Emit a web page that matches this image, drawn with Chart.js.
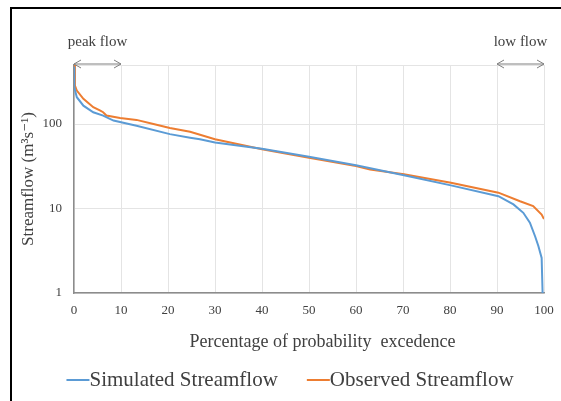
<!DOCTYPE html>
<html>
<head>
<meta charset="utf-8">
<script src="https://cdn.jsdelivr.net/npm/chart.js@4.4.1/dist/chart.umd.min.js"></script>
<style>
  html, body { margin: 0; padding: 0; background: #fff; }
  #wrap { position: relative; width: 561px; height: 401px; }
  #frame {
    position: absolute; left: 10px; top: 7px; right: 0; bottom: 0;
    border-top: 2px solid #000; border-left: 2px solid #000;
    pointer-events: none;
  }
</style>
</head>
<body>
<div id="wrap">
  <canvas id="fdc" width="561" height="401"></canvas>
  <div id="frame"></div>
</div>
<script>
// Flow duration curves (percent exceedance vs m3/s)
const simPct  = [0, 0.05, 0.6, 2, 4.1, 6.2, 8.4, 13.3, 20.4, 24.7, 26.8, 30, 40, 50, 60, 70.2, 80.2, 90.3, 93.5, 95.6, 97, 98.1, 98.8, 99.5, 99.7];
const simFlow = [480, 273, 208, 165, 138, 126, 110, 95.5, 76, 69, 66, 60.5, 51, 41, 32.5, 24.7, 18.8, 14.0, 11.2, 8.9, 6.8, 4.7, 3.6, 2.6, 1];

const obsPct  = [0, 0.2, 0.6, 2, 4.1, 5.5, 6.2, 6.9, 9.8, 13.3, 16.9, 20.4, 24.7, 30, 40, 50, 60, 63, 70.2, 80.2, 90.3, 94.9, 97.7, 99.5, 100];
const obsFlow = [500, 286, 249, 199, 158, 145, 138, 126, 118, 112, 100, 90, 81, 66, 50.4, 40, 31.9, 29, 25.4, 20.2, 15.4, 12.2, 10.7, 8.5, 7.5];

const yTicks = [1, 10, 100, 500];
const annotations = [
    { text: 'peak flow', from: 0, to: 10 },
    { text: 'low flow', from: 90, to: 100 }
];

const FONT = "'Liberation Serif', 'DejaVu Serif', serif";
const colors = {
    sim: '#5b9bd5',
    obs: '#ed7d31',
    grid: '#e4e4e4',
    axis: '#8c8c8c',
    text: '#404040',
    arrow: '#7f7f7f'
};

function toPoints(xs, ys) {
    return xs.map((x, i) => ({ x: x, y: ys[i] }));
}

// draws the peak / low flow arrows above the plot
const flowArrows = {
    id: 'flowArrows',
    afterDraw(chart) {
        const ctx = chart.ctx;
        const xs = chart.scales.x;
        const y = chart.chartArea.top - 1;
        ctx.save();
        ctx.strokeStyle = colors.arrow;
        ctx.lineWidth = 1;
        ctx.fillStyle = colors.text;
        ctx.font = '15px ' + FONT;
        ctx.textAlign = 'center';
        ctx.textBaseline = 'middle';
        annotations.forEach(a => {
            const x1 = xs.getPixelForValue(a.from);
            const x2 = xs.getPixelForValue(a.to);
            ctx.beginPath();
            ctx.moveTo(x1, y);
            ctx.lineTo(x2, y);
            ctx.moveTo(x1 + 7, y - 4);
            ctx.lineTo(x1, y);
            ctx.lineTo(x1 + 7, y + 4);
            ctx.moveTo(x2 - 7, y - 4);
            ctx.lineTo(x2, y);
            ctx.lineTo(x2 - 7, y + 4);
            ctx.stroke();
            ctx.fillText(a.text, (x1 + x2) / 2, y - 22);
        });
        ctx.restore();
    }
};

// simple legend: short line with the label right after it, no gap
const lineLegend = {
    id: 'lineLegend',
    afterDraw(chart) {
        const ctx = chart.ctx;
        const sets = chart.data.datasets;
        const lineLen = 23, gap = 29;
        const y = 380;
        ctx.save();
        ctx.font = '21px ' + FONT;
        ctx.textBaseline = 'middle';
        ctx.textAlign = 'left';
        const widths = sets.map(ds => ctx.measureText(ds.label).width);
        const total = widths.reduce((a, w) => a + w + lineLen, 0) + gap * (sets.length - 1);
        let x = 290 - total / 2;
        sets.forEach((ds, i) => {
            ctx.strokeStyle = ds.borderColor;
            ctx.lineWidth = 2;
            ctx.beginPath();
            ctx.moveTo(x, y);
            ctx.lineTo(x + lineLen, y);
            ctx.stroke();
            ctx.fillStyle = colors.text;
            ctx.fillText(ds.label, x + lineLen, y);
            x += lineLen + widths[i] + gap;
        });
        ctx.restore();
    }
};

new Chart(document.getElementById('fdc'), {
    type: 'scatter',
    data: {
        datasets: [
            {
                label: 'Simulated Streamflow',
                data: toPoints(simPct, simFlow),
                showLine: true,
                borderColor: colors.sim,
                backgroundColor: colors.sim,
                borderWidth: 2,
                pointRadius: 0,
                tension: 0
            },
            {
                label: 'Observed Streamflow',
                data: toPoints(obsPct, obsFlow),
                showLine: true,
                borderColor: colors.obs,
                backgroundColor: colors.obs,
                borderWidth: 2,
                pointRadius: 0,
                tension: 0
            }
        ]
    },
    options: {
        responsive: false,
        animation: false,
        layout: { padding: { left: 12, right: 17, top: 65, bottom: 46 } },
        plugins: {
            tooltip: { enabled: false },
            legend: { display: false }
        },
        scales: {
            x: {
                type: 'linear',
                min: 0,
                max: 100,
                afterFit: s => {
                    s.height = 62;
                    // don't let the "100" label push the plot inward
                    s.paddingLeft = 0;
                    s.paddingRight = 0;
                },
                ticks: {
                    stepSize: 10,
                    color: colors.text,
                    padding: 10,
                    font: { family: FONT, size: 13 }
                },
                grid: { color: colors.grid, drawTicks: false },
                border: { color: colors.axis, width: 1.5 },
                title: {
                    display: true,
                    text: '      Percentage of probability  excedence',
                    color: colors.text,
                    padding: { top: 0, bottom: 2 },
                    font: { family: FONT, size: 18 }
                }
            },
            y: {
                type: 'logarithmic',
                min: 1,
                max: 500,
                afterFit: s => {
                    s.width = 62;
                    s.paddingTop = 0;
                    s.paddingBottom = 0;
                },
                afterBuildTicks: s => { s.ticks = yTicks.map(v => ({ value: v })); },
                ticks: {
                    color: colors.text,
                    padding: 12,
                    font: { family: FONT, size: 13 },
                    callback: v => (v === 500 ? '' : String(v))
                },
                grid: { color: colors.grid, drawTicks: false },
                border: { color: colors.axis, width: 1.5 },
                title: {
                    display: true,
                    text: 'Streamflow (m³s⁻¹)',
                    color: colors.text,
                    padding: { top: 6, bottom: 0 },
                    font: { family: FONT, size: 17 }
                }
            }
        }
    },
    plugins: [flowArrows, lineLegend]
});
</script>
</body>
</html>
